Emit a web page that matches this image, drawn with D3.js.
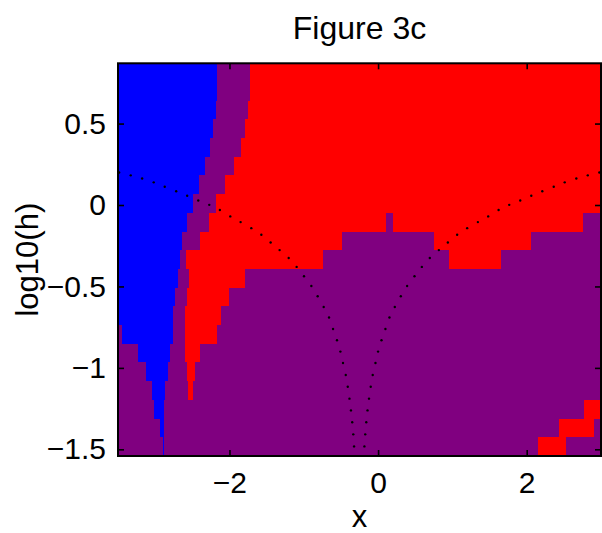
<!DOCTYPE html>
<html>
<head>
<meta charset="utf-8">
<script src="https://cdn.jsdelivr.net/npm/d3@7"></script>
<style>
  html, body { margin: 0; padding: 0; background: #fff; }
  svg { display: block; }
  text { font-family: "Liberation Sans", Arial, Helvetica, sans-serif; fill: #000; }
</style>
</head>
<body>
<svg id="chart" width="602" height="533"></svg>
<script>
// ---- data ----
const titleText = "Figure 3c";
const xLabel = "x";
const yLabel = "log10(h)";
const xTicks = [-2, 0, 2];
const yTicks = [-1.5, -1, -0.5, 0, 0.5];
const xExtent = [-3.5, 3.0];
const yExtent = [-1.541, 0.870];

// row centres in log10(h), top to bottom
const logh = [0.813, 0.698, 0.583, 0.468, 0.354, 0.239, 0.124, 0.009, -0.106, -0.220,
              -0.335, -0.450, -0.565, -0.680, -0.794, -0.909, -1.024, -1.139, -1.254, -1.369, -1.484];

// per row: region class followed by the x where that region ends (starting at left edge)
const rowRegions = [
  ["B", -2.164, "P", -1.729, "R", 3.0],
  ["B", -2.164, "P", -1.729, "R", 3.0],
  ["B", -2.183, "P", -1.752, "R", 3.0],
  ["B", -2.224, "P", -1.792, "R", 3.0],
  ["B", -2.268, "P", -1.850, "R", 3.0],
  ["B", -2.332, "P", -1.945, "R", 3.0],
  ["B", -2.412, "P", -2.066, "R", 3.0],
  ["B", -2.497, "P", -2.187, "R", 3.0],
  ["B", -2.565, "P", -2.278, "R", 0.104, "P", 0.198, "R", 2.763, "P", 3.0],
  ["B", -2.632, "P", -2.403, "R", -0.489, "P", 0.751, "R", 2.058, "P", 3.0],
  ["B", -2.659, "P", -2.590, "R", -0.736, "P", 0.953, "R", 1.654, "P", 3.0],
  ["B", -2.699, "P", -2.538, "R", -1.796, "P", 3.0],
  ["B", -2.730, "P", -2.565, "R", -2.012, "P", 3.0],
  ["B", -2.757, "P", -2.592, "R", -2.111, "P", 3.0],
  ["P", -3.441, "B", -2.757, "P", -2.592, "R", -2.164, "P", 3.0],
  ["P", -3.225, "B", -2.794, "P", -2.592, "R", -2.403, "P", 3.0],
  ["P", -3.118, "B", -2.821, "P", -2.565, "R", -2.470, "P", 3.0],
  ["P", -3.037, "B", -2.865, "P", -2.556, "R", -2.497, "P", 3.0],
  ["P", -3.010, "B", -2.875, "P", 2.772, "R", 3.0],
  ["P", -2.929, "B", -2.875, "P", 2.435, "R", 2.907, "P", 3.0],
  ["P", -2.898, "B", -2.884, "P", 2.152, "R", 2.526, "P", 3.0]
];

// dotted boundary curves (x, log10 h)
const curveLeftX = [-3.485, -3.329, -3.175, -3.019, -2.871, -2.717, -2.569, -2.420, -2.272, -2.129,
  -1.989, -1.850, -1.706, -1.571, -1.446, -1.325, -1.203, -1.096, -0.997, -0.898, -0.813, -0.732,
  -0.660, -0.606, -0.553, -0.507, -0.472, -0.435, -0.408, -0.385, -0.365, -0.348, -0.334, -0.323];
const curveRightX = [2.978, 2.822, 2.668, 2.512, 2.364, 2.210, 2.062, 1.913, 1.765, 1.622,
  1.482, 1.343, 1.199, 1.064, 0.939, 0.818, 0.696, 0.589, 0.490, 0.391, 0.306, 0.225,
  0.153, 0.099, 0.046, 0.000, -0.035, -0.072, -0.099, -0.122, -0.142, -0.159, -0.173, -0.184];
const curveY = [0.200, 0.182, 0.163, 0.139, 0.112, 0.084, 0.057, 0.028, 0.001, -0.031,
  -0.070, -0.105, -0.142, -0.183, -0.230, -0.277, -0.325, -0.380, -0.437, -0.497, -0.560, -0.626,
  -0.691, -0.761, -0.830, -0.900, -0.970, -1.044, -1.116, -1.189, -1.261, -1.334, -1.408, -1.482];

// ---- drawing ----
const colorOf = { B: "#0000ff", P: "#800080", R: "#ff0000" };
const plot = { left: 118, right: 601, top: 63.3, bottom: 456 };

const svg = d3.select("#chart");
const x = d3.scaleLinear().domain(xExtent).range([plot.left, plot.right]);
const y = d3.scaleLinear().domain(yExtent).range([plot.bottom, plot.top]);

// row edges: midpoints between centres, outer edges at the axis limits
const edges = logh.map((v, i) => {
  const top = i === 0 ? yExtent[1] : (logh[i - 1] + v) / 2;
  const bot = i === logh.length - 1 ? yExtent[0] : (logh[i + 1] + v) / 2;
  return [top, bot];
});

const cells = [];
rowRegions.forEach((row, i) => {
  let start = xExtent[0];
  for (let j = 0; j < row.length; j += 2) {
    cells.push({ c: row[j], x0: start, x1: row[j + 1], top: edges[i][0], bot: edges[i][1] });
    start = row[j + 1];
  }
});

const gCells = svg.append("g").attr("shape-rendering", "crispEdges");
gCells.selectAll("rect").data(cells).join("rect")
  .attr("x", d => x(d.x0))
  .attr("y", d => y(d.top))
  .attr("width", d => Math.max(1, x(d.x1) - x(d.x0)))
  .attr("height", d => y(d.bot) - y(d.top) + 0.5)
  .attr("fill", d => colorOf[d.c]);

// axes
const tickFont = 30;
const labelFont = 31;
const titleFont = 32;
const fmt = d => d3.format("")(d).replace("-", "\u2212");
const axB = svg.append("g").attr("transform", `translate(0,${plot.bottom})`)
  .call(d3.axisBottom(x).tickValues(xTicks).tickSizeInner(-6).tickSizeOuter(0).tickPadding(16).tickFormat(fmt));
const axL = svg.append("g").attr("transform", `translate(${plot.left},0)`)
  .call(d3.axisLeft(y).tickValues(yTicks).tickSizeInner(-6).tickSizeOuter(0).tickPadding(12).tickFormat(fmt));
const axT = svg.append("g").attr("transform", `translate(0,${plot.top})`)
  .call(d3.axisTop(x).tickValues(xTicks).tickSizeInner(-6).tickSizeOuter(0).tickFormat(""));
const axR = svg.append("g").attr("transform", `translate(${plot.right},0)`)
  .call(d3.axisRight(y).tickValues(yTicks).tickSizeInner(-6).tickSizeOuter(0).tickFormat(""));

[axB, axL, axT, axR].forEach(g => {
  g.select(".domain").remove();
  g.selectAll(".tick line").attr("stroke", "#000").attr("stroke-width", 1.6);
  g.selectAll(".tick text").attr("font-size", tickFont)
    .attr("font-family", '"Liberation Sans", Arial, sans-serif').attr("fill", "#000");
});

// box
svg.append("rect")
  .attr("x", plot.left).attr("y", plot.top)
  .attr("width", plot.right - plot.left).attr("height", plot.bottom - plot.top)
  .attr("fill", "none").attr("stroke", "#000").attr("stroke-width", 2);

// dotted curves (drawn above the box so edge dots stay visible)
const dots = curveY.map((v, i) => ({ x: curveLeftX[i], y: v }))
  .concat(curveY.map((v, i) => ({ x: curveRightX[i], y: v })));
svg.append("g").selectAll("circle").data(dots).join("circle")
  .attr("cx", d => x(d.x)).attr("cy", d => y(d.y)).attr("r", 1.2).attr("fill", "#000");

// labels
svg.append("text").attr("x", (plot.left + plot.right) / 2).attr("y", 39)
  .attr("text-anchor", "middle").attr("font-size", titleFont).text(titleText);
svg.append("text").attr("x", (plot.left + plot.right) / 2).attr("y", 527)
  .attr("text-anchor", "middle").attr("font-size", labelFont).text(xLabel);
svg.append("text").attr("transform", `translate(38,${(plot.top + plot.bottom) / 2}) rotate(-90)`)
  .attr("text-anchor", "middle").attr("font-size", labelFont).text(yLabel);
</script>
</body>
</html>
